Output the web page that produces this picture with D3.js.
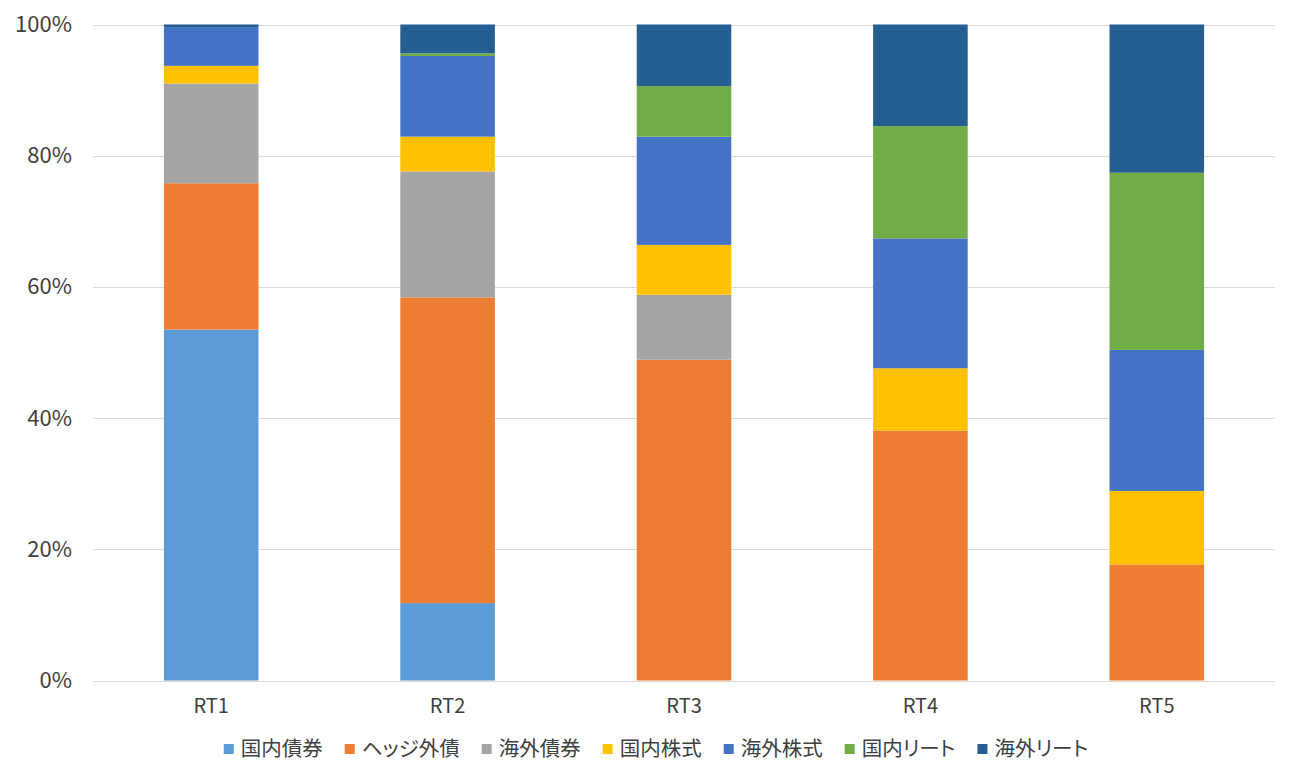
<!DOCTYPE html>
<html><head><meta charset="utf-8">
<script src="https://cdn.jsdelivr.net/npm/d3@7"></script>
<style>
html,body{margin:0;padding:0;background:#fff;}
svg{display:block;font-family:"Noto Sans CJK JP","Noto Sans",sans-serif;}
.lgtext{font-feature-settings:"palt" 1;}
</style></head>
<body>
<svg id="chart" width="1298" height="782"></svg>
<script>
const categories = ["RT1","RT2","RT3","RT4","RT5"];
const seriesNames = ["国内債券","ヘッジ外債","海外債券","国内株式","海外株式","国内リート","海外リート"];
const seriesColors = ["#5B9BD5","#ED7D31","#A5A5A5","#FFC000","#4472C4","#70AD47","#255E91"];
const kokunaiSaiken   = [53.5, 11.8,  0.0,  0.0,  0.0];
const hedgeGaisai     = [22.3, 46.6, 48.9, 38.1, 17.7];
const kaigaiSaiken    = [15.2, 19.2,  9.9,  0.0,  0.0];
const kokunaiKabushiki= [ 2.7,  5.3,  7.6,  9.5, 11.2];
const kaigaiKabushiki = [ 5.9, 12.3, 16.5, 19.8, 21.5];
const kokunaiReit     = [ 0.0,  0.4,  7.7, 17.1, 27.0];
const kaigaiReit      = [ 0.4,  4.4,  9.4, 15.5, 22.6];
const yTicks = [0,20,40,60,80,100];
const yTickLabels = ["0%","20%","40%","60%","80%","100%"];

(function(){
const seriesValues = [kokunaiSaiken,hedgeGaisai,kaigaiSaiken,kokunaiKabushiki,kaigaiKabushiki,kokunaiReit,kaigaiReit];
const table = categories.map((c,i)=>{
  const row = {cat:c};
  seriesNames.forEach((s,j)=>row[s]=seriesValues[j][i]);
  return row;
});

const svg = d3.select("#chart");
const mLeft = 93, mRight = 1275, mTop = 24.5, mBottom = 680.5;
const FONT = '"Noto Sans CJK JP","Noto Sans",sans-serif';
const TXT = "#404040";

const x = d3.scaleBand().domain(categories).range([mLeft,mRight]).paddingInner(0.6).paddingOuter(0.3);
const y = d3.scaleLinear().domain([0,100]).range([mBottom,mTop]);

// gridlines
svg.append("g").selectAll("line").data(yTicks).join("line")
  .attr("x1",mLeft).attr("x2",mRight)
  .attr("y1",d=>Math.round(y(d))+0.5).attr("y2",d=>Math.round(y(d))+0.5)
  .attr("stroke","#D9D9D9").attr("stroke-width",1);

// y axis labels
const yAxis = d3.axisLeft(y).tickValues(yTicks).tickFormat((d,i)=>yTickLabels[i]).tickSize(0).tickPadding(21);
const yg = svg.append("g").attr("transform",`translate(${mLeft},0)`).call(yAxis);
yg.select(".domain").remove();
yg.selectAll("text").attr("font-size",22).attr("fill",TXT).attr("font-family",FONT);

// bars
const stack = d3.stack().keys(seriesNames)(table);
svg.append("g").selectAll("g").data(stack).join("g")
  .attr("fill",(d,i)=>seriesColors[i])
  .selectAll("rect").data(d=>d).join("rect")
  .attr("x",d=>x(d.data.cat))
  .attr("width",x.bandwidth())
  .attr("y",d=>y(d[1]))
  .attr("height",d=>Math.max(0,y(d[0])-y(d[1])));

// x axis
const xAxis = d3.axisBottom(x).tickSize(0).tickPadding(18);
const xg = svg.append("g").attr("transform",`translate(0,${mBottom})`).call(xAxis);
xg.select(".domain").remove();
xg.selectAll("text").attr("font-size",20).attr("fill",TXT).attr("font-family",FONT);
svg.append("line").attr("x1",mLeft).attr("x2",mRight).attr("y1",Math.round(mBottom)+0.5).attr("y2",Math.round(mBottom)+0.5)
  .attr("stroke","#D9D9D9").attr("stroke-width",1);

// legend
const lg = svg.append("g");
const items = lg.selectAll("g").data(seriesNames).join("g");
items.append("rect").attr("width",10).attr("height",10).attr("y",-5).attr("fill",(d,i)=>seriesColors[i]);
items.append("text").attr("class","lgtext").text(d=>d).attr("x",17).attr("dy","0.36em").attr("font-size",20.5).attr("fill",TXT).attr("font-family",FONT);
let cx = 0; const gap = 22;
items.each(function(){
  const w = d3.select(this).select("text").node().getComputedTextLength();
  d3.select(this).attr("transform",`translate(${cx},0)`);
  cx += 17 + w + gap;
});
const total = cx - gap;
lg.attr("transform",`translate(${656 - total/2},749)`);
})();
</script>
</body></html>
